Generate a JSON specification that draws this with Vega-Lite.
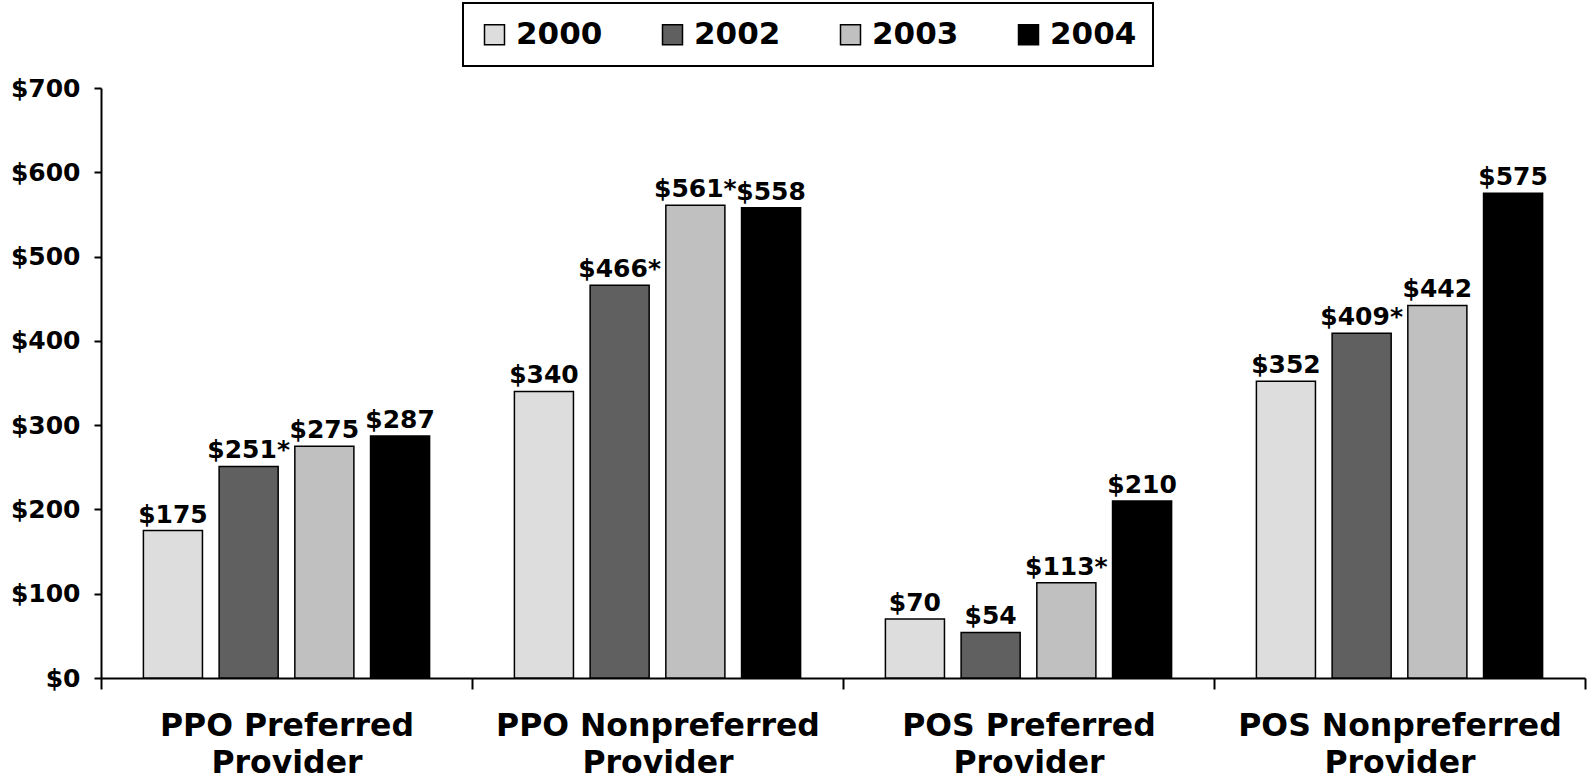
{
  "$schema": "https://vega.github.io/schema/vega-lite/v6.json",
  "width": 1484,
  "height": 590,
  "autosize": "none",
  "padding": {"left": 101, "top": 88, "right": 5, "bottom": 105},
  "background": "white",
  "config": {"view": {"stroke": null}, "font": "DejaVu Sans"},
  "data": {
    "values": [
      {"plan": "PPO Preferred Provider", "year": "2000", "cost": 175, "label": "$175"},
      {"plan": "PPO Preferred Provider", "year": "2002", "cost": 251, "label": "$251*"},
      {"plan": "PPO Preferred Provider", "year": "2003", "cost": 275, "label": "$275"},
      {"plan": "PPO Preferred Provider", "year": "2004", "cost": 287, "label": "$287"},
      {"plan": "PPO Nonpreferred Provider", "year": "2000", "cost": 340, "label": "$340"},
      {"plan": "PPO Nonpreferred Provider", "year": "2002", "cost": 466, "label": "$466*"},
      {"plan": "PPO Nonpreferred Provider", "year": "2003", "cost": 561, "label": "$561*"},
      {"plan": "PPO Nonpreferred Provider", "year": "2004", "cost": 558, "label": "$558"},
      {"plan": "POS Preferred Provider", "year": "2000", "cost": 70, "label": "$70"},
      {"plan": "POS Preferred Provider", "year": "2002", "cost": 54, "label": "$54"},
      {"plan": "POS Preferred Provider", "year": "2003", "cost": 113, "label": "$113*"},
      {"plan": "POS Preferred Provider", "year": "2004", "cost": 210, "label": "$210"},
      {"plan": "POS Nonpreferred Provider", "year": "2000", "cost": 352, "label": "$352"},
      {"plan": "POS Nonpreferred Provider", "year": "2002", "cost": 409, "label": "$409*"},
      {"plan": "POS Nonpreferred Provider", "year": "2003", "cost": 442, "label": "$442"},
      {"plan": "POS Nonpreferred Provider", "year": "2004", "cost": 575, "label": "$575"}
    ]
  },
  "encoding": {
    "x": {
      "field": "plan",
      "type": "nominal",
      "sort": ["PPO Preferred Provider", "PPO Nonpreferred Provider", "POS Preferred Provider", "POS Nonpreferred Provider"],
      "scale": {"paddingInner": 0, "paddingOuter": 0},
      "axis": {
        "title": null,
        "tickBand": "extent",
        "tickSize": 11,
        "tickWidth": 2,
        "tickColor": "black",
        "domainColor": "black",
        "domainWidth": 2,
        "labelAngle": 0,
        "labelFont": "DejaVu Sans",
        "labelFontSize": 31.5,
        "labelFontWeight": "bold",
        "labelColor": "black",
        "labelPadding": 21,
        "labelLineHeight": 37,
        "labelLimit": 0,
        "labelExpr": "split(replace(datum.label, ' Provider', '|Provider'), '|')"
      }
    },
    "xOffset": {
      "field": "year",
      "type": "nominal",
      "sort": ["2000", "2002", "2003", "2004"],
      "scale": {"paddingInner": 0.22, "paddingOuter": 0.56}
    },
    "y": {
      "field": "cost",
      "type": "quantitative",
      "scale": {"domain": [0, 700], "nice": false},
      "axis": {
        "title": null,
        "values": [0, 100, 200, 300, 400, 500, 600, 700],
        "format": "$d",
        "grid": false,
        "domainColor": "black",
        "domainWidth": 2,
        "tickColor": "black",
        "tickWidth": 2,
        "tickSize": 7,
        "labelFont": "DejaVu Sans",
        "labelFontWeight": "bold",
        "labelFontSize": 25,
        "labelColor": "black",
        "labelPadding": 14
      }
    }
  },
  "layer": [
    {
      "mark": {"type": "bar", "stroke": "black", "strokeWidth": 1.5},
      "encoding": {
        "color": {
          "field": "year",
          "type": "nominal",
          "scale": {"domain": ["2000", "2002", "2003", "2004"], "range": ["#DDDDDD", "#606060", "#C0C0C0", "#000000"]},
          "legend": {
            "orient": "none",
            "legendX": 362,
            "legendY": -85,
            "direction": "horizontal",
            "title": null,
            "labelFont": "DejaVu Sans",
            "labelFontWeight": "bold",
            "labelFontSize": 31,
            "labelColor": "black",
            "symbolType": "square",
            "symbolSize": 400,
            "symbolStrokeColor": "black",
            "symbolStrokeWidth": 1.5,
            "labelOffset": 6,
            "columnPadding": 54,
            "padding": 16,
            "strokeColor": "black",
            "fillColor": "white",
            "encode": {"legend": {"update": {"strokeWidth": {"value": 2}}}}
          }
        }
      }
    },
    {
      "mark": {"type": "text", "baseline": "bottom", "dy": -3, "font": "DejaVu Sans", "fontWeight": "bold", "fontSize": 25, "color": "black"},
      "encoding": {"text": {"field": "label"}}
    }
  ]
}
